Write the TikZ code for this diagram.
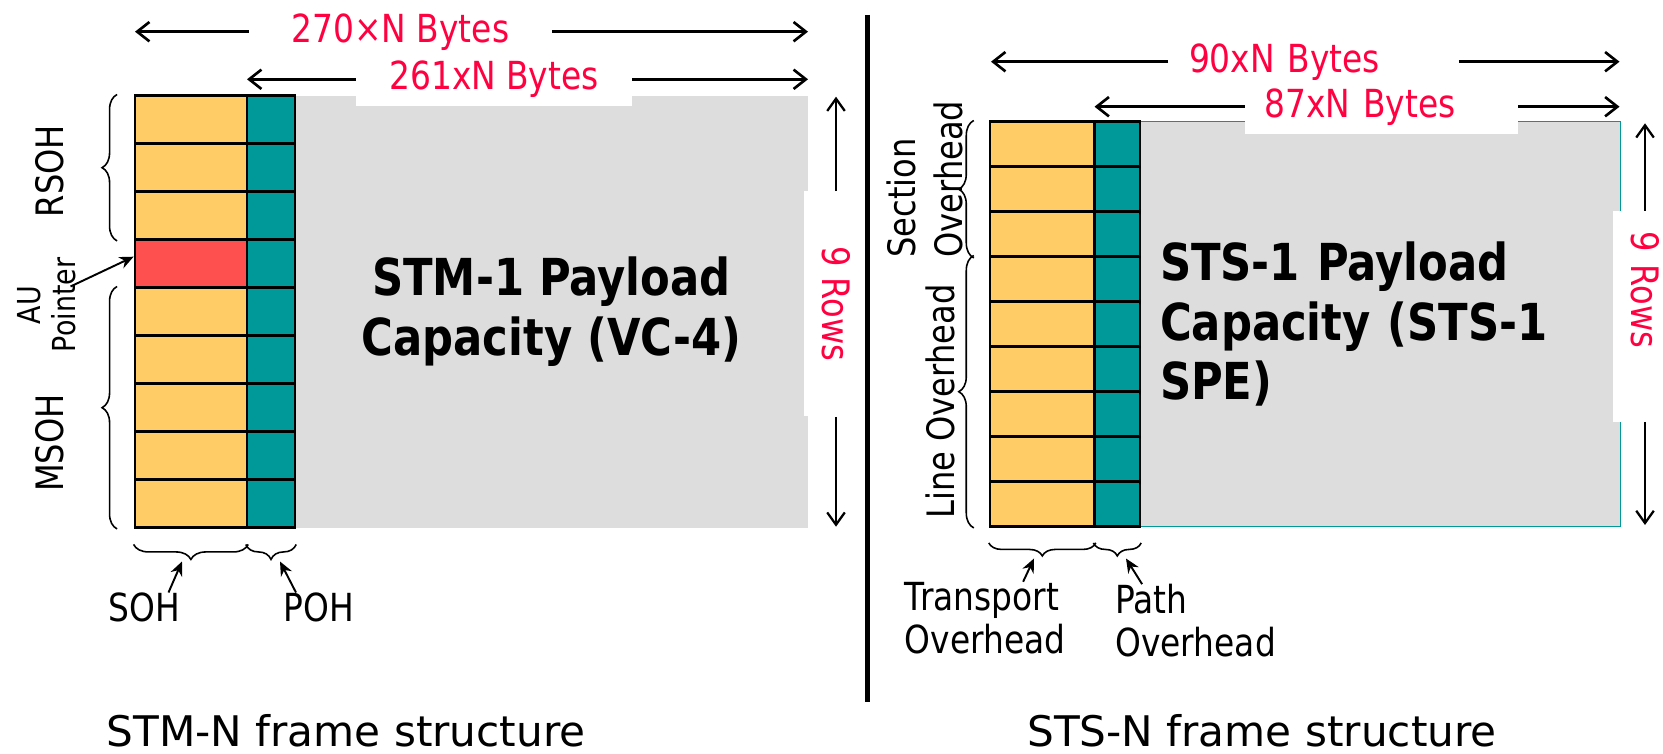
\documentclass[tikz,border=0pt]{standalone}
\usepackage{fontspec}
\setmainfont{DejaVu Sans}
\newfontfamily\condfont[FakeStretch=0.85]{DejaVu Sans}
\usepackage{tikz}
\usetikzlibrary{arrows.meta,decorations.pathreplacing}
\definecolor{sohyellow}{RGB}{255,204,102}
\definecolor{pohteal}{RGB}{0,153,153}
\definecolor{ptrred}{RGB}{255,80,80}
\definecolor{payloadgray}{RGB}{221,221,221}
\definecolor{labelred}{RGB}{255,0,64}

\begin{document}
\begin{tikzpicture}[
    cell/.style={draw=black, line width=1.4pt, inner sep=0pt},
    stmsoh/.style={cell, fill=sohyellow, minimum width=2.244cm, minimum height=0.96cm},
    stmpoh/.style={cell, fill=pohteal, minimum width=0.96cm, minimum height=0.96cm},
    stssoh/.style={cell, fill=sohyellow, minimum width=2.092cm, minimum height=0.9cm},
    stspoh/.style={cell, fill=pohteal, minimum width=0.908cm, minimum height=0.9cm},
    dimarrow/.style={line width=1.5pt, -{Straight Barb[length=7pt,width=11pt]}},
    rowarrow/.style={line width=1.3pt, -{Straight Barb[length=7pt,width=10pt]}},
    ptrarrow/.style={line width=1.1pt, -{Stealth[length=8pt,width=7pt]}},
    brace/.style={decorate, decoration={brace, amplitude=0.3cm}, line width=0.9pt},
    bytelabel/.style={fill=white, text=labelred, font=\condfont\fontsize{22}{26}\selectfont, minimum height=1.08cm, inner sep=0pt},
    rowlabel/.style={fill=white, text=labelred, font=\condfont\fontsize{21.5}{26}\selectfont, rotate=-90, minimum height=1.28cm, inner sep=0pt},
    sidelabel/.style={font=\condfont\fontsize{21.5}{26.5}\selectfont, rotate=90, inner sep=0pt},
    ohlabel/.style={font=\condfont\fontsize{22}{24.5}\selectfont, align=left, inner sep=0pt},
    payload/.style={fill=payloadgray, font=\condfont\bfseries\fontsize{29}{34}\selectfont, inner sep=0pt},
    caption/.style={font=\fontsize{24}{28}\selectfont, inner sep=0pt}
]
\useasboundingbox (0,0) rectangle (33.26,-15.08);

% ---------- STM-N frame ----------
\node[payload, minimum width=10.26cm, minimum height=8.64cm, align=center] (stmpay) at (11.03,-6.234) {STM-1 Payload\\Capacity (VC-4)};
\foreach \r in {0,...,8} {
    \node[stmsoh] (stmsoh-\r) at (3.818,{-2.394-0.96*\r}) {};
    \node[stmpoh] (stmpoh-\r) at (5.42,{-2.394-0.96*\r}) {};
}
\node[stmsoh, fill=ptrred] (stmptr) at (stmsoh-3) {};

% byte widths
\coordinate (stm270l) at (2.70,-0.634);
\coordinate (stm270r) at (16.16,-0.634);
\node[bytelabel, minimum width=6.06cm] (stm270) at (8.01,-0.634) {270×N Bytes};
\draw[dimarrow] (stm270.west) -- (stm270l);
\draw[dimarrow] (stm270.east) -- (stm270r);
\coordinate (stm261l) at (4.94,-1.586);
\coordinate (stm261r) at (16.16,-1.586);
\node[bytelabel, minimum width=5.52cm] (stm261) at (9.88,-1.586) {261xN Bytes};
\draw[dimarrow] (stm261.west) -- (stm261l);
\draw[dimarrow] (stm261.east) -- (stm261r);

% rows
\coordinate (stmrowt) at (16.72,-1.934);
\coordinate (stmrowb) at (16.72,-10.534);
\node[rowlabel, minimum width=4.5cm] (stmrows) at (16.72,-6.08) {9 Rows};
\draw[rowarrow] (stmrows.west) -- (stmrowt);
\draw[rowarrow] (stmrows.east) -- (stmrowb);

% side braces
\draw[brace] ([xshift=-0.33cm]stmsoh-2.south west) -- ([xshift=-0.33cm]stmsoh-0.north west);
\draw[brace] ([xshift=-0.33cm]stmsoh-8.south west) -- ([xshift=-0.33cm]stmsoh-4.north west);
\node[sidelabel] (rsoh) at (1.0,-3.42) {RSOH};
\node[sidelabel] (msoh) at (1.0,-8.86) {MSOH};
\node[sidelabel, align=center, font=\condfont\fontsize{18}{20}\selectfont] (aulbl) at (0.94,-6.1) {AU\\Pointer};
\draw[ptrarrow] ([xshift=0.47cm,yshift=0.37cm]aulbl.center) -- ([yshift=0.14cm]stmptr.west);

% bottom braces
\draw[brace] ([yshift=-0.31cm]stmsoh-8.south east) -- ([yshift=-0.31cm]stmsoh-8.south west);
\draw[brace] ([yshift=-0.31cm]stmpoh-8.south east) -- ([yshift=-0.31cm]stmpoh-8.south west);
\node[ohlabel] (sohlbl) at (2.88,-12.15) {SOH};
\node[ohlabel] (pohlbl) at (6.38,-12.15) {POH};
\coordinate (sohtip) at (3.64,-11.23);
\coordinate (pohtip) at (5.60,-11.23);
\draw[ptrarrow] ([xshift=0.49cm]sohlbl.north) -- (sohtip);
\draw[ptrarrow] ([xshift=-0.46cm]pohlbl.north) -- (pohtip);

\node[caption] (stmcap) at (6.92,-14.62) {STM-N frame structure};

% divider
\draw[line width=2.3pt] (17.35,-0.3) -- (17.35,-14.03);

% ---------- STS-N frame ----------
\node[payload, draw=pohteal, line width=0.9pt, minimum width=9.61cm, minimum height=8.1cm, text width=8.81cm, align=left] (stspay) at (27.605,-6.484) {STS-1 Payload\\Capacity (STS-1\\SPE)};
\foreach \r in {0,...,8} {
    \node[stssoh] (stssoh-\r) at (20.846,{-2.884-0.9*\r}) {};
    \node[stspoh] (stspoh-\r) at (22.346,{-2.884-0.9*\r}) {};
}

% byte widths
\coordinate (sts90l) at (19.82,-1.234);
\coordinate (sts90r) at (32.39,-1.234);
\node[bytelabel, text width=4.98cm, inner xsep=0.41cm, align=left] (sts90) at (26.27,-1.234) {90xN Bytes};
\draw[dimarrow] (sts90.west) -- (sts90l);
\draw[dimarrow] (sts90.east) -- (sts90r);
\coordinate (sts87l) at (21.89,-2.134);
\coordinate (sts87r) at (32.39,-2.134);
\node[bytelabel, text width=4.68cm, inner xsep=0.39cm, align=left] (sts87) at (27.63,-2.134) {87xN Bytes};
\draw[dimarrow] (sts87.west) -- (sts87l);
\draw[dimarrow] (sts87.east) -- (sts87r);

% rows
\coordinate (stsrowt) at (32.9,-2.466);
\coordinate (stsrowb) at (32.9,-10.5);
\node[rowlabel, text width=3.39cm, inner xsep=0.41cm, align=left] (stsrows) at (32.9,-6.327) {9 Rows};
\draw[rowarrow] (stsrows.west) -- (stsrowt);
\draw[rowarrow] (stsrows.east) -- (stsrowb);

% side braces
\draw[brace] ([xshift=-0.3cm]stssoh-2.south west) -- ([xshift=-0.3cm]stssoh-0.north west);
\draw[brace] ([xshift=-0.3cm]stssoh-8.south west) -- ([xshift=-0.3cm]stssoh-3.north west);
\node[sidelabel, align=left, anchor=west] (secoh) at (18.5,-5.16) {Section\\Overhead};
\node[sidelabel] (lineoh) at (18.81,-8.03) {Line Overhead};

% bottom braces
\draw[brace, decoration={amplitude=0.26cm}] ([yshift=-0.3cm]stssoh-8.south east) -- ([yshift=-0.3cm]stssoh-8.south west);
\draw[brace, decoration={amplitude=0.26cm}] ([yshift=-0.3cm]stspoh-8.south east) -- ([yshift=-0.3cm]stspoh-8.south west);
\node[ohlabel, anchor=west] (trlbl) at (18.09,-12.36) {Transport\\Overhead};
\node[ohlabel, anchor=west] (pathlbl) at (22.3,-12.42) {Path\\Overhead};
\coordinate (trtip) at (20.68,-11.17);
\coordinate (pathtip) at (22.52,-11.17);
\draw[ptrarrow] ([xshift=0.76cm]trlbl.north) -- (trtip);
\draw[ptrarrow] ([xshift=-1.07cm]pathlbl.north) -- (pathtip);

\node[caption] (stscap) at (25.24,-14.62) {STS-N frame structure};
\end{tikzpicture}
\end{document}
